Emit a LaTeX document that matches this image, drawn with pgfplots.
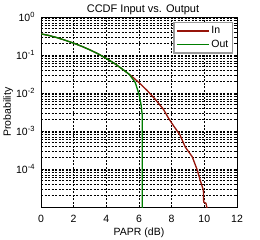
\documentclass[border=0pt]{standalone}
\usepackage{pgfplots}
\pgfplotsset{compat=1.18}
\usepackage{fontspec}
\setmainfont{Liberation Sans}
\definecolor{inred}{RGB}{150,20,10}
\definecolor{outgreen}{RGB}{0,125,0}
\newcommand{\dec}[1]{10\raisebox{0.85ex}{\fontsize{7.5bp}{8bp}\selectfont #1}}
\begin{document}
\begin{tikzpicture}
\path[use as bounding box] (-41bp,-33bp) rectangle (219bp,207bp);
\begin{axis}[
  scale only axis, width=196bp, height=190bp,
  xmin=0, xmax=12, ymin=1e-5, ymax=1, ymode=log,
  xtick={0,2,4,6,8,10,12},
  ytick={1e-4,1e-3,1e-2,1e-1,1},
  yticklabels={\dec{-4},\dec{-3},\dec{-2},\dec{-1},\dec{0}},
  minor ytick={2e-5,3e-5,4e-5,5e-5,6e-5,7e-5,8e-5,9e-5,
    2e-4,3e-4,4e-4,5e-4,6e-4,7e-4,8e-4,9e-4,
    2e-3,3e-3,4e-3,5e-3,6e-3,7e-3,8e-3,9e-3,
    2e-2,3e-2,4e-2,5e-2,6e-2,7e-2,8e-2,9e-2,
    2e-1,3e-1,4e-1,5e-1,6e-1,7e-1,8e-1,9e-1},
  grid=both,
  major grid style={black, line width=0.5bp, dash pattern=on 2bp off 1.5bp},
  minor grid style={black, line width=0.5bp, dash pattern=on 2bp off 1.5bp},
  tick align=inside, major tick length=2.5bp, minor tick length=1.5bp,
  tick style={black, line width=0.5bp},
  axis line style={black, line width=0.6bp},
  /pgf/number format/assume math mode=true,
  tick label style={font=\fontsize{10.5bp}{12bp}\selectfont},
  xticklabel style={anchor=base, yshift=-15.5bp},
  yticklabel style={anchor=east, xshift=-3bp},
  title={CCDF Input vs. Output},
  title style={font=\fontsize{11bp}{13bp}\selectfont, at={(rel axis cs:0.5,1)}, anchor=base, yshift=-1bp, xshift=4bp},
  xlabel={PAPR (dB)},
  xlabel style={font=\fontsize{10.5bp}{12bp}\selectfont, at={(rel axis cs:0.5,0)}, anchor=base, yshift=-28.5bp},
  ylabel={Probability},
  ylabel style={font=\fontsize{10.5bp}{12bp}\selectfont, at={([xshift=-30bp]rel axis cs:0,0.5)}, anchor=base},
  legend style={draw=gray!80, line width=1.5bp, fill=white,
    at={(rel axis cs:0.98,0.974)}, anchor=north east,
    font=\fontsize{10.5bp}{12bp}\selectfont, inner xsep=2bp, inner ysep=2bp,
    row sep=1bp},
  legend cell align=left,
  legend image code/.code={\draw[#1, line width=1.3bp] (0bp,0bp) -- (32bp,0bp);},
]
\addplot[inred, line width=1.3bp] coordinates {
(0,0.36) (0.5,0.325) (1,0.285) (1.5,0.243) (2,0.205) (2.5,0.169) (3,0.136)
(3.5,0.107) (4,0.081) (4.5,0.060) (5,0.042) (5.5,0.0288) (6,0.0188)
(6.5,0.0116) (7,0.0068) (7.5,0.0037) (7.8,0.0022) (8.1,0.0014) (8.5,0.0008)
(8.83,0.00038) (9.26,0.00021) (9.57,0.000093) (9.75,0.00005) (9.94,0.000028)
(9.96,0.0000135) (10.1,0.0000125) (10.2,0.000008)
};
\addlegendentry{In}
\addplot[outgreen, line width=1.3bp] coordinates {
(0,0.36) (0.5,0.325) (1,0.285) (1.5,0.243) (2,0.205) (2.5,0.169) (3,0.136)
(3.5,0.107) (4,0.081) (4.5,0.060) (5,0.042) (5.4,0.031) (5.77,0.019)
(6.01,0.0089) (6.13,0.0048) (6.2,0.0026) (6.2,0.000001)
};
\addlegendentry{Out}
\end{axis}
\end{tikzpicture}
\end{document}
